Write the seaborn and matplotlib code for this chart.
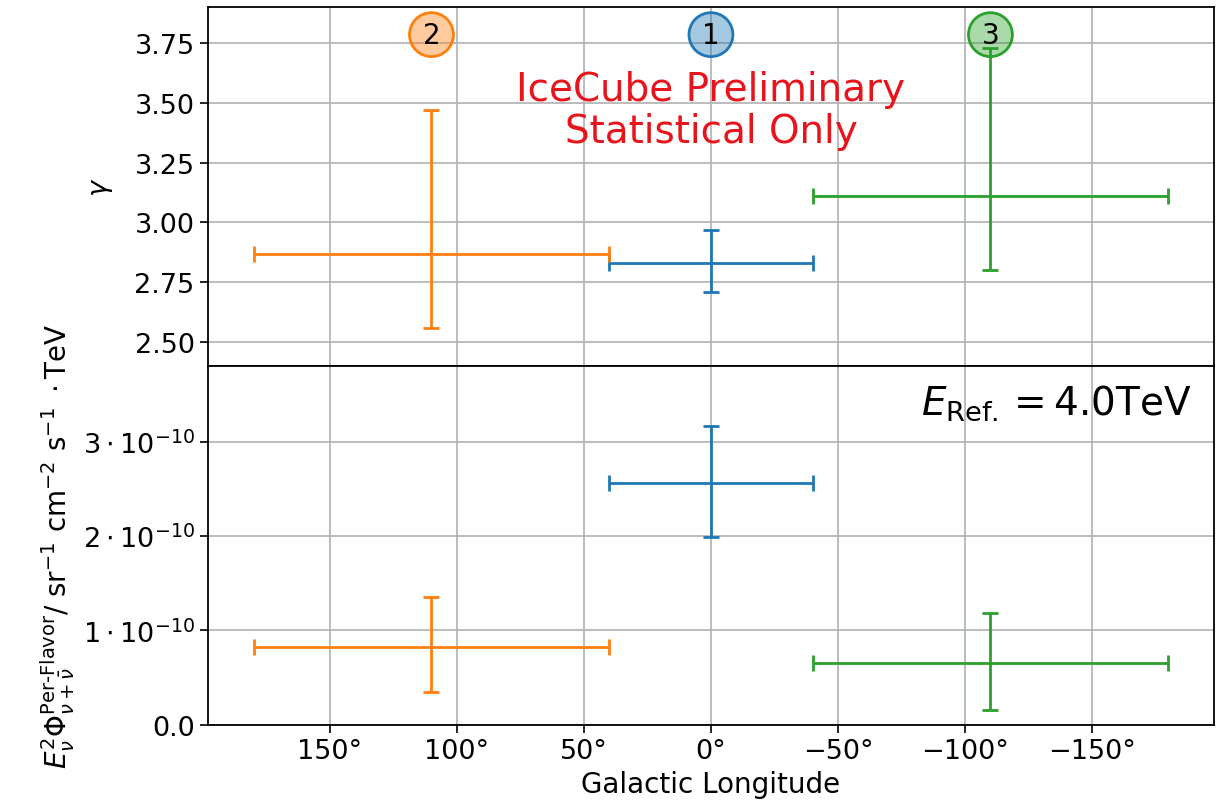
import numpy as np
import matplotlib
matplotlib.use("Agg")
import matplotlib.pyplot as plt
import seaborn as sns
from matplotlib.colors import to_rgba

# region data
regions = ["1", "2", "3"]
colors = ["#1f77b4", "#ff7f0e", "#2ca02c"]
lon_center = [0, 110, -110]
lon_halfwidth = [40, 70, 70]

gamma = [2.83, 2.87, 3.11]
gamma_lo = [2.71, 2.56, 2.80]
gamma_hi = [2.97, 3.47, 3.73]

flux = [2.56e-10, 0.82e-10, 0.66e-10]
flux_lo = [1.99e-10, 0.35e-10, 0.16e-10]
flux_hi = [3.16e-10, 1.35e-10, 1.19e-10]

x_ticks = [150, 100, 50, 0, -50, -100, -150]
gamma_ticks = [2.50, 2.75, 3.00, 3.25, 3.50, 3.75]
flux_ticks = [0.0, 1e-10, 2e-10, 3e-10]
flux_ticklabels = ["0.0", r"$1\cdot10^{-10}$", r"$2\cdot10^{-10}$", r"$3\cdot10^{-10}$"]
marker_y = 3.785

sns.set_style("ticks", {"axes.grid": True, "grid.color": "#b0b0b0",
                        "axes.edgecolor": "black", "text.color": "black",
                        "axes.labelcolor": "black", "xtick.color": "black",
                        "ytick.color": "black"})
plt.rcParams["grid.linewidth"] = 1.2

fig, (ax_top, ax_bot) = plt.subplots(2, 1, sharex=True, figsize=(12.3, 8.12), dpi=100)
fig.subplots_adjust(left=0.169, right=0.987, top=0.990, bottom=0.106, hspace=0)

for i in range(len(regions)):
    c = colors[i]
    ax_top.errorbar(lon_center[i], gamma[i], xerr=lon_halfwidth[i],
                    yerr=[[gamma[i] - gamma_lo[i]], [gamma_hi[i] - gamma[i]]],
                    color=c, lw=2, capsize=6, capthick=2, fmt="none")
    ax_bot.errorbar(lon_center[i], flux[i], xerr=lon_halfwidth[i],
                    yerr=[[flux[i] - flux_lo[i]], [flux_hi[i] - flux[i]]],
                    color=c, lw=2, capsize=6, capthick=2, fmt="none")

# numbered region markers
sns.scatterplot(x=lon_center, y=[marker_y] * 3, ax=ax_top, s=1000,
                color=[to_rgba(c, 0.4) for c in colors],
                edgecolor=colors, linewidth=2, zorder=5, legend=False)
for i in range(len(regions)):
    ax_top.text(lon_center[i], marker_y, regions[i], ha="center", va="center",
                fontsize=20, zorder=6)

ax_top.text(0, 3.47, "IceCube Preliminary\nStatistical Only", color="#e8141c",
            ha="center", va="center", fontsize=28, linespacing=1.15)
ax_bot.text(0.977, 0.955, r"$E_{\mathrm{Ref.}}=4.0\mathrm{TeV}$", transform=ax_bot.transAxes,
            ha="right", va="top", fontsize=28)

ax_top.set_xlim(198, -198)
ax_top.set_xticks(x_ticks)
ax_bot.set_xticklabels([f"{t}°".replace("-", "\u2212") for t in x_ticks])
ax_top.tick_params(axis="x", length=0)

ax_top.set_ylim(2.40, 3.90)
ax_top.set_yticks(gamma_ticks)
ax_top.set_yticklabels([f"{t:.2f}" for t in gamma_ticks])
ax_bot.set_ylim(0, 3.8e-10)
ax_bot.set_yticks(flux_ticks)
ax_bot.set_yticklabels(flux_ticklabels)

for ax in (ax_top, ax_bot):
    ax.tick_params(labelsize=19.5, length=6, width=1.2)
    for s in ax.spines.values():
        s.set_linewidth(1.3)

ax_top.set_ylabel(r"$\gamma$", fontsize=19.5, labelpad=14)
ax_bot.set_ylabel(r"$E_{\nu}^{2}\Phi_{\nu+\bar{\nu}}^{\text{Per-Flavor}}/\ \mathrm{sr^{-1}\ cm^{-2}\ s^{-1}}\ \cdot\mathrm{TeV}$",
                  fontsize=20)
ax_bot.set_xlabel("Galactic Longitude", fontsize=20)

fig.savefig("out.png", dpi=100)
